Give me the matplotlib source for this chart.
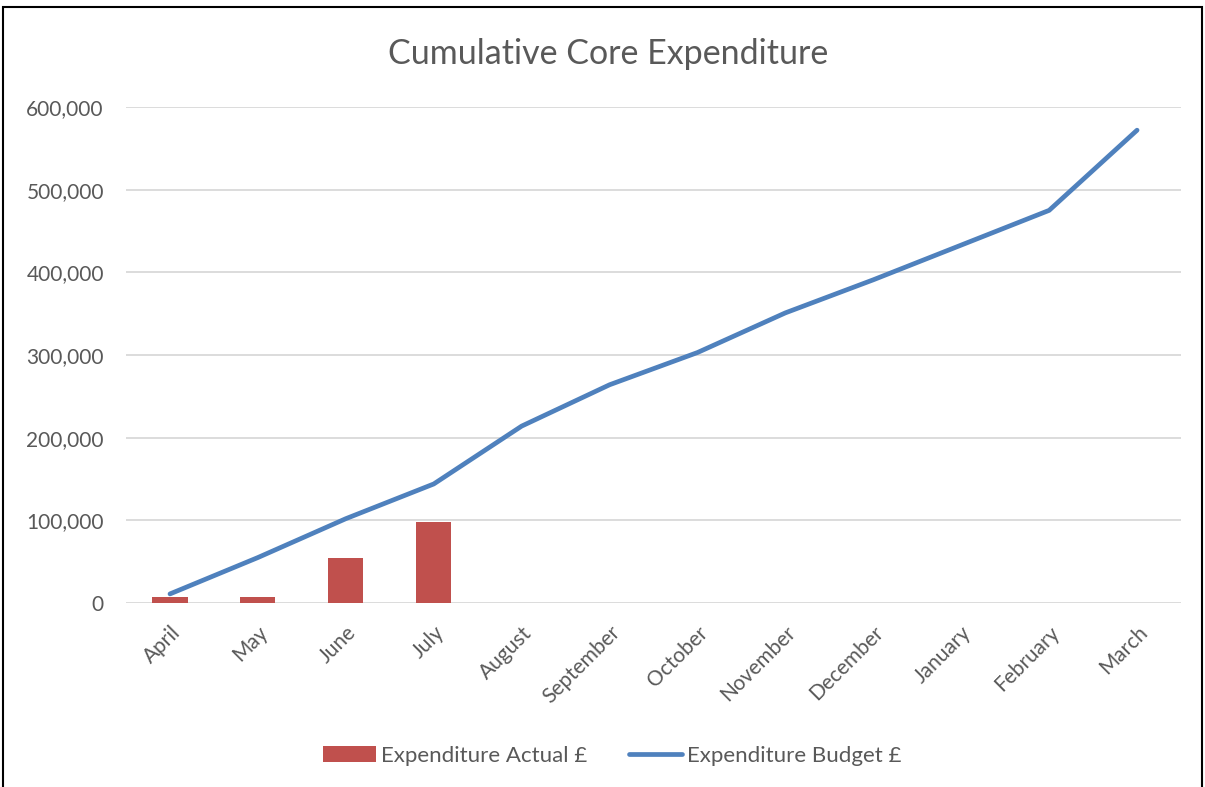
import numpy as np
import matplotlib.pyplot as plt
from matplotlib.ticker import FuncFormatter
from matplotlib.patches import Rectangle

months = ['April', 'May', 'June', 'July', 'August', 'September', 'October',
          'November', 'December', 'January', 'February', 'March']
actual = [7000, 7000, 55000, 98000]
budget = [11000, 55000, 102000, 144000, 214000, 264000, 303000,
          351000, 391000, 433000, 475000, 572000]

plt.rcParams['font.family'] = ['Lato', 'DejaVu Sans']
grey = '#595959'

fig = plt.figure(figsize=(12.05, 7.87), dpi=100)
ax = fig.add_axes([0.1046, 0.2338, 0.8755, 0.6302])

x = np.arange(len(months))
bars = ax.bar(x[:len(actual)], actual, width=0.4, color='#c0504d', zorder=2,
              label='Expenditure Actual £')
line, = ax.plot(x, budget, color='#4f81bd', lw=3.4, solid_capstyle='round',
                solid_joinstyle='round', zorder=3, label='Expenditure Budget £')

ax.set_xlim(-0.5, len(months) - 0.5)
ax.set_ylim(0, 600000)
ax.set_yticks(np.arange(0, 600001, 100000))
ax.yaxis.set_major_formatter(FuncFormatter(lambda v, p: f'{int(v):,}'))
ax.set_xticks(x)
ax.set_xticklabels(months, rotation=45, ha='right', rotation_mode='anchor')
ax.grid(axis='y', color='#d9d9d9', lw=1.3, zorder=0)
ax.set_axisbelow(True)
for s in ax.spines.values():
    s.set_visible(False)
ax.tick_params(length=0, labelsize=15, colors=grey)
ax.tick_params(axis='y', pad=16)
ax.tick_params(axis='x', pad=14)

fig.text(0.505, 0.932, 'Cumulative Core Expenditure', ha='center', va='center',
         fontsize=24.5, color=grey)

leg = fig.legend([bars, line], ['Expenditure Actual £', 'Expenditure Budget £'],
                 loc='center', bbox_to_anchor=(0.508, 0.04), ncol=2, frameon=False,
                 fontsize=16, handlelength=2.4, handleheight=0.75, columnspacing=1.9,
                 handletextpad=0.2)
for t in leg.get_texts():
    t.set_color(grey)

fig.patches.append(Rectangle((0.0025, -0.01), 0.995, 1.001, transform=fig.transFigure,
                             fill=False, edgecolor='black', lw=1.5))

fig.savefig('out.png', dpi=100)
